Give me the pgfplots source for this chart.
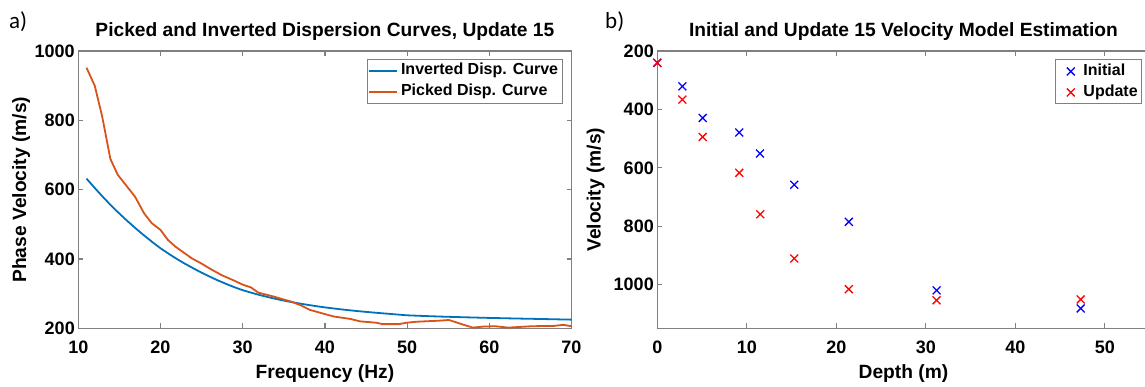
\documentclass[border=0pt]{standalone}
\usepackage{fontspec}
\setmainfont{Liberation Sans}
\newfontfamily\calibri{Carlito}
\usepackage{pgfplots}
\pgfplotsset{compat=1.18}

\definecolor{mblue}{HTML}{0072BD}
\definecolor{morange}{HTML}{D95319}
\definecolor{axgray}{RGB}{128,128,128}

\pgfplotsset{
  common/.style={
    scale only axis, height=277.2pt,
    axis line style={axgray, line width=1.3pt},
    tick style={axgray, line width=1.2pt},
    major tick length=5pt,
    tick align=inside,
    /pgf/number format/assume math mode=true,
    /pgf/number format/1000 sep={},
    ticklabel style={font=\fontsize{18}{20}\selectfont\bfseries},
    xticklabel style={anchor=base, yshift=-25pt},
    label style={font=\fontsize{19.2}{22}\selectfont\bfseries},
    title style={font=\fontsize{19.2}{22}\selectfont\bfseries, at={(0.5,1)}, anchor=base, yshift=8.4pt},
    xlabel style={at={(0.5,0)}, anchor=base, yshift=-50pt},
    legend cell align=left,
  }
}

\begin{document}
\begin{tikzpicture}
\node[anchor=base west, font=\calibri\fontsize{23}{26}\selectfont, inner sep=0pt] at (9pt,-28.3pt) {a)};
\node[anchor=base west, font=\calibri\fontsize{23}{26}\selectfont, inner sep=0pt] at (605pt,-28.3pt) {b)};

\begin{axis}[common,
  at={(78.3pt,-328.3pt)}, anchor=south west,
  width=493.2pt,
  xmin=10, xmax=70, ymin=200, ymax=1000,
  xtick={10,20,...,70}, ytick={200,400,...,1000},
  title={Picked and Inverted Dispersion Curves, Update 15},
  xlabel={Frequency (Hz)},
  ylabel={Phase Velocity (m/s)},
  ylabel style={at={(-0.106,0.5)}, anchor=base},
  legend style={at={(0.982,0.972)}, anchor=north east, draw=axgray, line width=1pt,
    font=\fontsize{16}{19}\selectfont\bfseries, inner sep=1pt, row sep=0pt,
    nodes={text height=11.5pt, text depth=3.5pt, inner sep=3pt}},
  legend image code/.code={\draw[#1] (0pt,0pt) -- (27.7pt,0pt);},
]
\addplot[mblue, line width=1.8pt] coordinates {
(11,632) (12,605) (13,579) (14,554) (15,531) (16,509) (17,488) (18,468) (19,449) (20,431)
(21,415) (22,400) (23,386) (24,373) (25,360.5) (26,349) (27,338) (28,328) (29,318.5) (30,310)
(31,303) (32,296.5) (33,290.5) (34,285) (35,280) (36,275.4) (37,271.2) (38,267.3) (39,263.7) (40,260.4)
(41,257.4) (42,254.6) (43,252) (44,249.6) (45,247.4) (46,245.3) (47,243.3) (48,241.4) (49,239.4) (50,237.5)
(52,235.6) (54,233.9) (56,232.5) (58,231.2) (60,230) (62,228.9) (64,227.9) (66,227) (68,226) (70,225)
};
\addlegendentry{Inverted Disp. Curve}
\addplot[morange, line width=1.8pt] coordinates {
(11,952) (12,900) (12.9,812) (13.9,689) (14.8,643) (15.9,610) (16.9,580) (18,532) (18.95,503) (20,484)
(20.9,455) (21.8,436) (23.8,402) (24.9,388) (26.1,371) (27.4,354) (29.2,335) (30,326) (31,318) (31.9,303)
(33.7,292) (35.9,277) (37,267) (38.2,253) (40,241) (41.1,234) (43.1,227) (44.3,220) (46.3,216) (47,212)
(49,212) (49.9,216) (51.2,219) (53.9,222) (55.1,224) (56.9,210) (58,202) (59.3,205) (60.7,206) (62.3,202)
(65.2,206) (67.9,207) (69,210) (70,206)
};
\addlegendentry{Picked Disp. Curve}
\end{axis}

\begin{axis}[common,
  at={(657.3pt,-328.3pt)}, anchor=south west,
  width=492.3pt,
  xmin=0, xmax=55, ymin=200, ymax=1150, y dir=reverse,
  xtick={0,10,...,50}, ytick={200,400,...,1000},
  clip=false,
  title={Initial and Update 15 Velocity Model Estimation},
  xlabel={Depth (m)},
  ylabel={Velocity (m/s)},
  ylabel style={at={(-0.115,0.5)}, anchor=base},
  legend style={at={(0.985,0.970)}, anchor=north east, draw=axgray, line width=1pt,
    font=\fontsize{16}{19}\selectfont\bfseries, inner sep=1pt, row sep=0pt,
    nodes={text height=11.5pt, text depth=3.5pt, inner sep=3pt}},
  legend image code/.code={\path[draw=none, fill=none] (0pt,-5pt) rectangle (24pt,5pt); \draw[#1] plot coordinates {(14.3pt,0pt)};},
]
\addplot[only marks, blue, mark=x, mark size=5.6pt, line width=1.3pt] coordinates {
(0,240) (2.8,321) (5.07,429) (9.16,479) (11.47,551) (15.3,658) (21.4,785) (31.2,1020) (47.3,1082)
};
\addlegendentry{Initial}
\addplot[only marks, red, mark=x, mark size=5.6pt, line width=1.3pt] coordinates {
(0,240) (2.8,366) (5.07,494) (9.16,617) (11.5,759) (15.3,911) (21.4,1016) (31.2,1054) (47.3,1051)
};
\addlegendentry{Update}
\end{axis}

\pgfresetboundingbox
\path[use as bounding box] (0pt,0pt) rectangle (1145pt,-387pt);
\end{tikzpicture}
\end{document}
